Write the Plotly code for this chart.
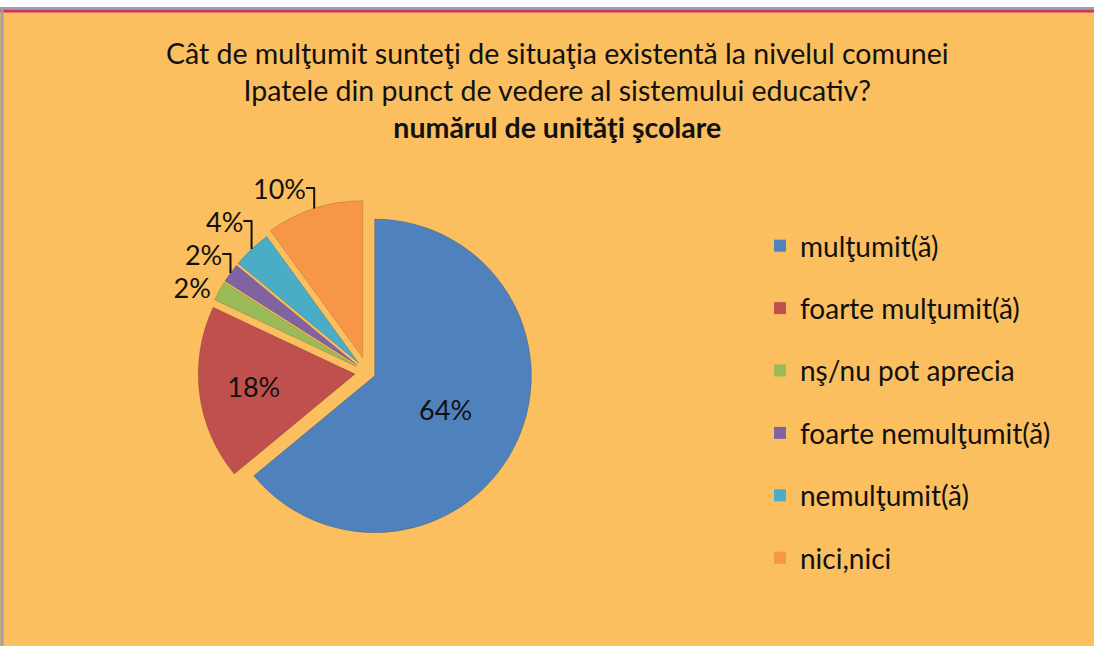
import plotly.graph_objects as go

categories = ["mulţumit(ă)", "foarte mulţumit(ă)", "nş/nu pot aprecia",
              "foarte nemulţumit(ă)", "nemulţumit(ă)", "nici,nici"]
percentages = [64, 18, 2, 2, 4, 10]
colors = ["#4F81BD", "#C0504D", "#9BBB59", "#8064A2", "#4BACC6", "#F79646"]
title_lines = ["Cât de mulţumit sunteţi de situaţia existentă la nivelul comunei",
               "Ipatele din punct de vedere al sistemului educativ?"]
subtitle = "numărul de unităţi şcolare"

W, H = 1094, 646
BG = "#FBBF5F"
FONT = "Lato, 'Open Sans', sans-serif"

fig = go.Figure()
fig.add_trace(go.Pie(
    labels=categories, values=percentages,
    marker=dict(colors=colors, line=dict(color="rgba(0,0,0,0.15)", width=1)),
    sort=False, direction="clockwise", rotation=0,
    textinfo="percent", texttemplate="%{percent:.0%}",
    textposition=["inside", "inside", "outside", "outside", "outside", "outside"],
    insidetextorientation="horizontal",
    textfont=dict(family=FONT, size=27, color="#111111"),
    outsidetextfont=dict(family=FONT, size=27, color="#111111"),
    pull=[0.05, 0.08, 0.08, 0.08, 0.08, 0.1],
    showlegend=False,
    domain=dict(x=[175 / W, 560 / W], y=[1 - 545 / H, 1 - 200 / H]),
    hoverinfo="label+percent",
))

# legend entries (one group each so spacing can be controlled)
for cat, col in zip(categories, colors):
    fig.add_trace(go.Scatter(
        x=[None], y=[None], mode="markers", name=cat,
        marker=dict(symbol="square", size=17, color=col),
        legendgroup=cat, showlegend=True, hoverinfo="skip",
    ))

fig.update_layout(
    width=W, height=H,
    paper_bgcolor=BG, plot_bgcolor=BG,
    margin=dict(l=0, r=0, t=0, b=0),
    xaxis=dict(visible=False), yaxis=dict(visible=False),
    legend=dict(
        x=760 / W, y=1 - 221 / H, xanchor="left", yanchor="top",
        bgcolor="rgba(0,0,0,0)", font=dict(family=FONT, size=28, color="#111111"),
        tracegroupgap=23, itemsizing="constant",
    ),
    annotations=[
        dict(text="<br>".join(title_lines) + "<br><b>" + subtitle + "</b>",
             x=557 / W, y=1 - 34 / H, xref="paper", yref="paper",
             xanchor="center", yanchor="top", showarrow=False,
             font=dict(family=FONT, size=28.5, color="#111111"), align="center"),
    ],
    shapes=[
        dict(type="rect", xref="paper", yref="paper", x0=0, x1=1,
             y0=1 - 8 / H, y1=1, fillcolor="white", line=dict(width=0), layer="above"),
        dict(type="line", xref="paper", yref="paper", x0=0, x1=1,
             y0=1 - 8 / H, y1=1 - 8 / H, line=dict(color="#9AA0A6", width=2)),
        dict(type="line", xref="paper", yref="paper", x0=0, x1=1,
             y0=1 - 11 / H, y1=1 - 11 / H, line=dict(color="#D0306A", width=3)),
        dict(type="line", xref="paper", yref="paper", x0=2 / W, x1=2 / W,
             y0=0, y1=1 - 8 / H, line=dict(color="#A0A0A0", width=3)),
    ],
)

fig.write_html("out.html", config={"displayModeBar": False},
               post_script="document.body.style.margin='0';document.body.style.overflow='hidden';")
